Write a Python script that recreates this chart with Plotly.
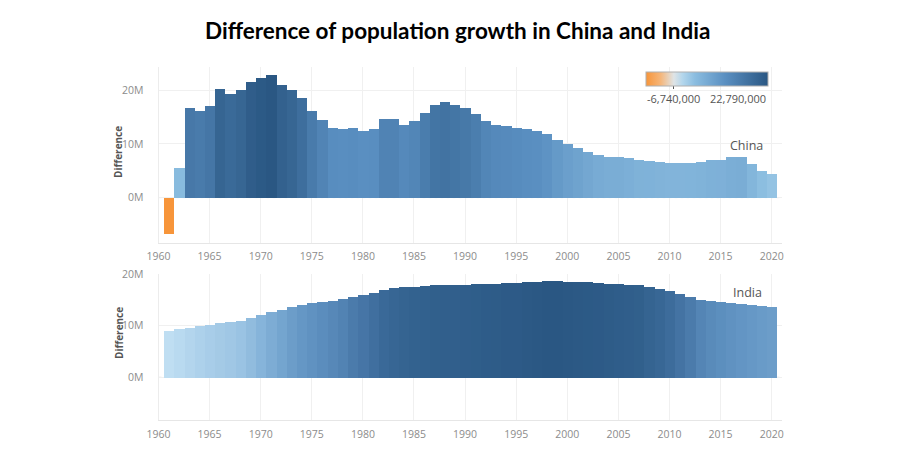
"""
Difference of population growth in China and India (year-over-year change).
"""

import plotly.graph_objects as go

years = list(range(1961, 2021))

# year-over-year population difference
china_diff = [
    -6.74e6, 5.47e6, 16.65e6, 16.15e6, 17.0e6, 20.25e6, 19.25e6, 20.06e6, 21.6e6, 22.3e6,
    22.79e6, 20.9e6, 20.06e6, 18.5e6, 16.15e6, 14.4e6, 12.86e6, 12.67e6, 12.86e6, 12.42e6,
    12.67e6, 14.7e6, 14.7e6, 13.5e6, 14.2e6, 15.8e6, 17.3e6, 17.7e6, 17.14e6, 16.6e6,
    15.6e6, 14.2e6, 13.5e6, 13.35e6, 13.0e6, 12.67e6, 12.42e6, 11.8e6, 10.75e6, 9.94e6,
    9.25e6, 8.57e6, 8.0e6, 7.64e6, 7.64e6, 7.33e6, 6.9e6, 6.83e6, 6.65e6, 6.46e6,
    6.46e6, 6.52e6, 6.7e6, 6.96e6, 7.08e6, 7.5e6, 7.64e6, 6.27e6, 4.97e6, 4.4e6,
]

india_diff = [
    9.07e6, 9.39e6, 9.71e6, 10.03e6, 10.29e6, 10.55e6, 10.74e6, 11.06e6, 11.58e6, 12.15e6,
    12.67e6, 13.18e6, 13.7e6, 14.08e6, 14.4e6, 14.66e6, 14.92e6, 15.18e6, 15.63e6, 15.95e6,
    16.46e6, 16.98e6, 17.3e6, 17.49e6, 17.68e6, 17.75e6, 17.88e6, 17.94e6, 17.94e6, 18.0e6,
    18.07e6, 18.2e6, 18.26e6, 18.39e6, 18.39e6, 18.52e6, 18.59e6, 18.71e6, 18.71e6, 18.59e6,
    18.52e6, 18.46e6, 18.39e6, 18.26e6, 18.13e6, 18.0e6, 17.88e6, 17.49e6, 17.17e6, 16.72e6,
    16.14e6, 15.63e6, 15.11e6, 14.79e6, 14.6e6, 14.4e6, 14.21e6, 14.02e6, 13.83e6, 13.7e6,
]

x_ticks = list(range(1960, 2021, 5))
y_ticks = [0, 10e6, 20e6]
y_tick_labels = ['0M', '10M', '20M']

china_min, china_max = -6.74e6, 22.79e6
china_zero = (0 - china_min) / (china_max - china_min)

china_scale = [
    [0.0, '#f7953a'],
    [0.12, '#f5b67a'],
    [china_zero, '#dfe4e6'],
    [0.30, '#b3d6ec'],
    [0.40, '#8bbde0'],
    [0.65, '#5a8fc1'],
    [1.0, '#2a5783'],
]
india_scale = [
    [0.0, '#bfdef2'],
    [0.32, '#86b4da'],
    [0.55, '#6093c2'],
    [0.71, '#4675a6'],
    [0.89, '#33628f'],
    [1.0, '#2a5783'],
]

# the page body keeps its 8px default margin, so the figure is a bit smaller
OFF = 8
W, H = 905 - OFF, 465 - OFF
FONT = 'Open Sans'
TICK_COLOR = '#8c8c8c'
GRID = '#f0f0f0'


def px_x(p):
    return (p - OFF) / W


def px_y(p):
    return 1 - (p - OFF) / H


fig = go.Figure()

fig.add_trace(go.Bar(
    x=years, y=china_diff, name='China', xaxis='x', yaxis='y',
    marker=dict(color=china_diff, colorscale=china_scale, cmin=china_min, cmax=china_max,
                line=dict(width=0), showscale=True,
                colorbar=dict(orientation='h', x=px_x(706.5), xanchor='center',
                              y=px_y(81), yanchor='middle', xpad=0, ypad=0,
                              len=121.6, lenmode='pixels', thickness=14,
                              outlinewidth=1, outlinecolor='#b0b0b0',
                              tickvals=[0], ticktext=[''], ticks='outside',
                              ticklen=3, tickcolor='#555555', tickwidth=1)),
    hovertemplate='%{x}: %{y:,.0f}<extra>China</extra>',
))

fig.add_trace(go.Bar(
    x=years, y=india_diff, name='India', xaxis='x2', yaxis='y2',
    marker=dict(color=india_diff, colorscale=india_scale,
                cmin=min(india_diff), cmax=max(india_diff),
                line=dict(width=0), showscale=False),
    hovertemplate='%{x}: %{y:,.0f}<extra>India</extra>',
))

x_common = dict(
    range=[1960, 2021], tickvals=x_ticks, showgrid=True, gridcolor=GRID,
    zeroline=False, showline=True, linecolor='#e6e6e6', linewidth=1,
    tickfont=dict(family=FONT, size=10.5, color=TICK_COLOR), ticks='',
    ticklabelstandoff=4, domain=[px_x(158.5), px_x(781.9)],
)
y_common = dict(
    tickvals=y_ticks, ticktext=y_tick_labels, showgrid=True, gridcolor=GRID,
    zeroline=False, showline=True, linecolor='#ececec',
    tickfont=dict(family=FONT, size=10.5, color=TICK_COLOR), ticks='',
    ticklabelstandoff=12,
)

fig.update_layout(
    width=W, height=H,
    margin=dict(l=0, r=0, t=0, b=0, autoexpand=False),
    paper_bgcolor='white', plot_bgcolor='white',
    showlegend=False, bargap=0,
    xaxis=dict(x_common, anchor='y'),
    yaxis=dict(y_common, range=[-8.4e6, 24.3e6], anchor='x',
               domain=[px_y(242.7), px_y(67)]),
    xaxis2=dict(x_common, anchor='y2'),
    yaxis2=dict(y_common, range=[-8.25e6, 20.1e6], anchor='x2',
                domain=[px_y(420), px_y(273.5)]),
)

# dotted zero lines like the source
for xr, yr in [('x', 'y'), ('x2', 'y2')]:
    fig.add_shape(type='line', xref=xr, yref=yr, x0=1960, x1=2021, y0=0, y1=0,
                  line=dict(color='#c8c8c8', width=1, dash='dot'), layer='below')

# thin border on the right edge
fig.add_shape(type='rect', xref='paper', yref='paper', x0=px_x(902), x1=px_x(905),
              y0=0, y1=1, line=dict(width=0), fillcolor='#dadada')


def note(text, cx, cy, size, color='#555555', family=FONT, xanchor='center', angle=0):
    fig.add_annotation(text=text, xref='paper', yref='paper', x=px_x(cx), y=px_y(cy),
                       xanchor=xanchor, yanchor='middle', showarrow=False, textangle=angle,
                       font=dict(family=family, size=size, color=color))


note('<b>Difference of population growth in China and India</b>', 457.5, 30, 22.5,
     color='black', family='Lato')
note('<b>Difference</b>', 118, 152, 10, angle=-90)
note('<b>Difference</b>', 119, 333, 10, angle=-90)
note('China', 746.5, 145.7, 12.5)
note('India', 747.5, 292.3, 12.5)
note('-6,740,000', 645, 98, 11, xanchor='left')
note('22,790,000', 767.5, 98, 11, xanchor='right')

fig.write_html("out.html")
